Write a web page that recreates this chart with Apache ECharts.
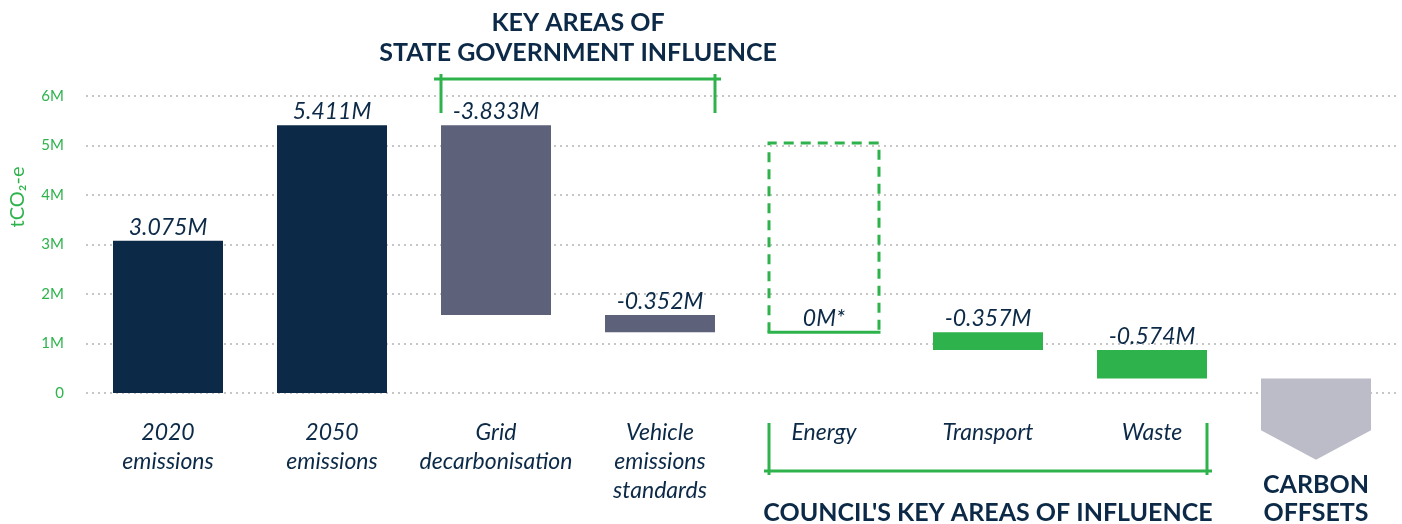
<!DOCTYPE html>
<html>
<head>
<meta charset="utf-8">
<script src="https://cdn.jsdelivr.net/npm/echarts@6/dist/echarts.min.js"></script>
<style>
html,body{margin:0;padding:0;background:#fff;}
#chart{width:1402px;height:524px;}
</style>
</head>
<body>
<div id="chart"></div>
<script>
// ---- data ----
const categories = ['2020\nemissions', '2050\nemissions', 'Grid\ndecarbonisation', 'Vehicle\nemissions\nstandards', 'Energy', 'Transport', 'Waste', ''];
const deltas = [3.075, 5.411, -3.833, -0.352, 0, -0.357, -0.574]; // millions tCO2-e
const barLabels = ['3.075M', '5.411M', '-3.833M', '-0.352M', '0M*', '-0.357M', '-0.574M'];
const kinds = ['total', 'total', 'state', 'state', 'energy', 'council', 'council'];
const energyBoxTop = 5.05;
const offsetArrow = [-0.75, -1.35]; // shoulder, tip (below remaining total)
const yTicks = [0, 1, 2, 3, 4, 5, 6];

const NAVY = '#0c2a47', SLATE = '#5d6179', GREEN = '#2eb34c', GREY = '#bcbcc9';
const FONT = 'Lato';

// build waterfall ranges
const bars = [];
let running = 0;
deltas.forEach((d, i) => {
  if (kinds[i] === 'total') { bars.push([i, 0, d, 0]); running = d; }
  else {
    const next = running + d;
    if (kinds[i] === 'energy') bars.push([i, running, energyBoxTop, 0]);
    else bars.push([i, next, running, 0]);
    running = next;
  }
});
bars.push([7, running, offsetArrow[0], offsetArrow[1]]);

function renderItem(params, api) {
  const idx = params.dataIndex;
  const c = api.value(0);
  const x = api.coord([c, 0])[0];
  const w = api.size([1, 0])[0] * 0.6707;
  const x0 = x - w / 2, x1 = x + w / 2;
  if (idx === 7) {
    const yTop = api.coord([c, api.value(1)])[1];
    const yMid = api.coord([c, api.value(2)])[1];
    const yTip = api.coord([c, api.value(3)])[1];
    return {
      type: 'polygon',
      shape: { points: [[x0, yTop], [x1, yTop], [x1, yMid], [x, yTip], [x0, yMid]] },
      style: { fill: GREY }
    };
  }
  const yLow = api.coord([c, api.value(1)])[1];
  const yHigh = api.coord([c, api.value(2)])[1];
  const kind = kinds[idx];
  const children = [];
  let labelY = yHigh - 2;
  if (kind === 'energy') {
    children.push({
      type: 'polyline',
      shape: { points: [[x0, yLow], [x0, yHigh], [x1, yHigh], [x1, yLow]] },
      style: { stroke: GREEN, lineWidth: 3, lineDash: [10, 7], fill: null }
    });
    children.push({
      type: 'line',
      shape: { x1: x0 - 1.5, y1: yLow, x2: x1 + 1.5, y2: yLow },
      style: { stroke: GREEN, lineWidth: 3 }
    });
    labelY = yLow - 2;
  } else {
    const fill = kind === 'total' ? NAVY : kind === 'state' ? SLATE : GREEN;
    children.push({
      type: 'rect',
      shape: { x: x0, y: yHigh, width: w, height: yLow - yHigh },
      style: { fill: fill }
    });
  }
  children.push({
    type: 'text',
    style: {
      text: barLabels[idx], x: x, y: labelY, align: 'center', verticalAlign: 'bottom',
      fill: NAVY, fontSize: 23, fontStyle: 'italic', fontFamily: FONT
    }
  });
  return { type: 'group', children: children };
}

const chart = echarts.init(document.getElementById('chart'), null, { renderer: 'canvas' });
const option = {
  animation: false,
  backgroundColor: '#fff',
  grid: { left: 86, right: 4, top: 96, bottom: 131 },
  xAxis: {
    type: 'category',
    data: categories,
    axisLine: { show: false },
    axisTick: { show: false },
    axisLabel: {
      interval: 0, margin: 25, color: NAVY, fontSize: 23, fontStyle: 'italic',
      fontFamily: FONT, lineHeight: 29, verticalAlign: 'top'
    }
  },
  yAxis: {
    type: 'value', min: yTicks[0], max: yTicks[yTicks.length - 1], interval: 1,
    axisLine: { show: false }, axisTick: { show: false },
    axisLabel: {
      margin: 22, color: GREEN, fontSize: 15, fontFamily: FONT,
      formatter: v => v === 0 ? '0' : v + 'M'
    },
    splitLine: { lineStyle: { color: '#c6c6c6', width: 2, type: [2, 4] } }
  },
  series: [{
    type: 'custom',
    renderItem: renderItem,
    clip: false,
    dimensions: ['cat', 'a', 'b', 'c'],
    encode: { x: 0, y: [1, 2, 3] },
    data: bars
  }]
};
chart.setOption(option);

// annotation graphics positioned from the axes
const px = (c, v) => chart.convertToPixel({ gridIndex: 0 }, [c, v]);
const band = px(1, 0)[0] - px(0, 0)[0];
const halfW = band * 0.6707 / 2;
const gL = px(2, 0)[0] - halfW, gR = px(3, 0)[0] + halfW;
const cL = px(4, 0)[0] - halfW, cR = px(6, 0)[0] + halfW;
const offX = px(7, 0)[0];
const titleStyle = { fill: NAVY, fontSize: 25, fontWeight: 'bold', fontFamily: FONT, align: 'center', verticalAlign: 'middle', lineHeight: 30 };
chart.setOption({
  graphic: [
    { type: 'text', x: 18, y: 197, rotation: Math.PI / 2,
      style: { text: 'tCO₂-e', fill: GREEN, fontSize: 20, fontFamily: FONT, align: 'center', verticalAlign: 'middle' } },
    { type: 'text', x: (gL + gR) / 2, y: 38, style: Object.assign({ text: 'KEY AREAS OF\nSTATE GOVERNMENT INFLUENCE' }, titleStyle) },
    { type: 'line', shape: { x1: gL - 7, y1: 79, x2: gR + 6, y2: 79 }, style: { stroke: GREEN, lineWidth: 3 } },
    { type: 'line', shape: { x1: gL, y1: 74, x2: gL, y2: 113 }, style: { stroke: GREEN, lineWidth: 3 } },
    { type: 'line', shape: { x1: gR, y1: 74, x2: gR, y2: 113 }, style: { stroke: GREEN, lineWidth: 3 } },
    { type: 'line', shape: { x1: cL - 5, y1: 471, x2: cR + 5, y2: 471 }, style: { stroke: GREEN, lineWidth: 3 } },
    { type: 'line', shape: { x1: cL, y1: 423, x2: cL, y2: 475 }, style: { stroke: GREEN, lineWidth: 3 } },
    { type: 'line', shape: { x1: cR, y1: 423, x2: cR, y2: 475 }, style: { stroke: GREEN, lineWidth: 3 } },
    { type: 'text', x: (cL + cR) / 2, y: 513, style: Object.assign({ text: "COUNCIL'S KEY AREAS OF INFLUENCE" }, titleStyle) },
    { type: 'text', x: offX, y: 499, style: Object.assign({ text: 'CARBON\nOFFSETS' }, titleStyle, { lineHeight: 28 }) }
  ]
});
</script>
</body>
</html>
